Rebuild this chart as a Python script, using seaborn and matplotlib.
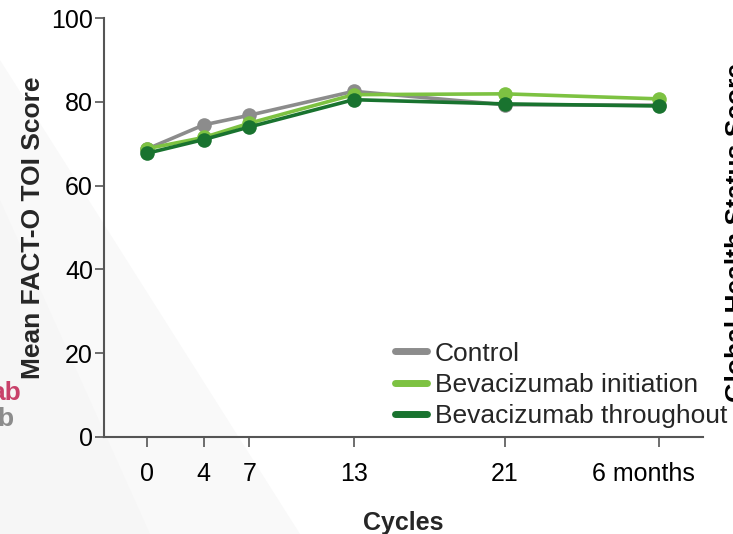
import matplotlib
matplotlib.use("Agg")
import matplotlib.pyplot as plt
from matplotlib.lines import Line2D
from matplotlib.patches import Polygon
from matplotlib.transforms import ScaledTranslation
import seaborn as sns
import pandas as pd

# Assessment time points and where they sit along the x axis
timepoints = ["0", "4", "7", "13", "21", "6 months"]
tick_pos = [0, 4, 7.2, 14.5, 25.1, 35.9]

# Mean FACT-O TOI score per arm
control = [68.7, 74.5, 76.8, 82.5, 79.3, 79.2]
bev_initiation = [68.8, 71.5, 74.9, 81.7, 81.9, 80.7]
bev_throughout = [67.7, 71.0, 74.0, 80.5, 79.5, 79.0]

arms = ["Control", "Bevacizumab initiation", "Bevacizumab throughout"]
colors = {"Control": "#8c8c8c",
          "Bevacizumab initiation": "#7dc242",
          "Bevacizumab throughout": "#19732f"}

rows = []
for arm, vals in zip(arms, [control, bev_initiation, bev_throughout]):
    for p, v in zip(tick_pos, vals):
        rows.append({"pos": p, "score": v, "arm": arm})
df = pd.DataFrame(rows)

sns.set_theme(style="white")
plt.rcParams["font.family"] = ["Liberation Sans", "DejaVu Sans"]

W, H = 733, 534
fig = plt.figure(figsize=(W / 100, H / 100), dpi=100)

# faint diagonal shading of the slide background
fig.patches.append(Polygon([(0, 1 - 60 / H), (0, 0), (300 / W, 0)], closed=True,
                           transform=fig.transFigure, facecolor="#f9f9f9",
                           edgecolor="none", zorder=-10))
fig.patches.append(Polygon([(0, 1 - 200 / H), (0, 0), (150 / W, 0)], closed=True,
                           transform=fig.transFigure, facecolor="#f6f6f6",
                           edgecolor="none", zorder=-9))

ax = fig.add_axes([104 / W, 1 - 437 / H, (703 - 104) / W, (437 - 18) / H])
ax.set_facecolor("none")

sns.lineplot(data=df, x="pos", y="score", hue="arm", hue_order=arms,
             palette=colors, marker="o", markersize=10.5, markeredgewidth=0,
             linewidth=2.6, legend=False, ax=ax)

ax.set_xlim(-3.0, 39.0)
ax.set_ylim(0, 100)
ax.set_xticks(tick_pos)
ax.set_xticklabels(timepoints)
ax.set_yticks([0, 20, 40, 60, 80, 100])

for side in ["top", "right"]:
    ax.spines[side].set_visible(False)
for side in ["left", "bottom"]:
    ax.spines[side].set_color("#555555")
    ax.spines[side].set_linewidth(1.5)

ax.tick_params(axis="y", which="major", direction="out", length=6.5, width=1.2,
               color="#555555", labelsize=18, pad=1.5, labelcolor="black", left=True)
ax.tick_params(axis="x", which="major", direction="out", length=7, width=1.2,
               color="#555555", labelsize=18, pad=11, labelcolor="black", bottom=True)

# the last label sits a little left of its tick
last = ax.get_xticklabels()[-1]
last.set_transform(last.get_transform() + ScaledTranslation(-15 / 100, 0, fig.dpi_scale_trans))

ax.set_xlabel("Cycles", fontsize=18, fontweight="bold", labelpad=18)
ax.set_ylabel("Mean FACT-O TOI Score", fontsize=19, fontweight="bold", labelpad=4)

handles = [Line2D([0], [0], color=colors[a], lw=5) for a in arms]
fig.legend(handles, arms, loc="center left", bbox_to_anchor=(395 / W, 1 - 385 / H),
           frameon=False, fontsize=19, handlelength=1.2, handletextpad=0.3,
           labelspacing=0.28, borderaxespad=0, borderpad=0)

# Edges of the neighbouring panels
fig.text(-10 / W, 1 - 393 / H, "ab", color="#c8416a", fontsize=19,
         fontweight="bold", ha="left", va="center")
fig.text(-3 / W, 1 - 419 / H, "b", color="#8c8c8c", fontsize=19,
         fontweight="bold", ha="left", va="center")
fig.text(725 / W, 1 - 232 / H, "Global Health Status Score", rotation=90,
         fontsize=19, fontweight="bold", ha="left", va="center", color="black")

fig.savefig("out.png", dpi=100)
